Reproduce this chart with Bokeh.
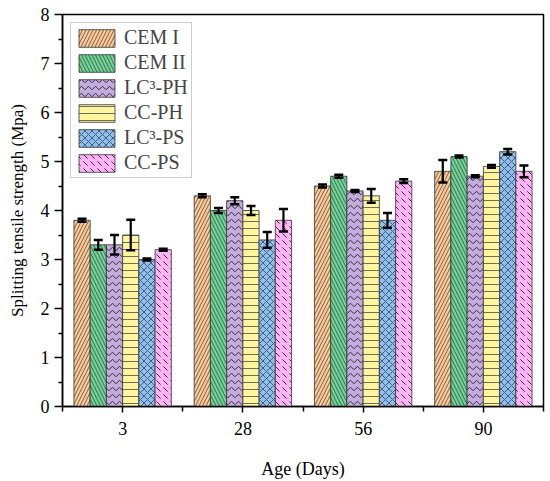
from bokeh.plotting import figure
from bokeh.models import ColumnDataSource, FixedTicker, Range1d
from bokeh.transform import dodge
from bokeh.embed import file_html
from bokeh.resources import INLINE

ages = ["3", "28", "56", "90"]
series = ["CEM I", "CEM II", "LC³-PH", "CC-PH", "LC³-PS", "CC-PS"]
cem1 = [3.8, 4.3, 4.5, 4.8]
cem2 = [3.3, 4.0, 4.7, 5.1]
lc3ph = [3.3, 4.2, 4.4, 4.7]
ccph = [3.5, 4.0, 4.3, 4.9]
lc3ps = [3.0, 3.4, 3.8, 5.2]
ccps = [3.2, 3.8, 4.6, 4.8]
err_cem1 = [0.03, 0.03, 0.03, 0.23]
err_cem2 = [0.1, 0.05, 0.03, 0.02]
err_lc3ph = [0.2, 0.07, 0.02, 0.02]
err_ccph = [0.31, 0.09, 0.14, 0.03]
err_lc3ps = [0.02, 0.16, 0.15, 0.055]
err_ccps = [0.02, 0.23, 0.04, 0.12]

values = [cem1, cem2, lc3ph, ccph, lc3ps, ccps]
errors = [err_cem1, err_cem2, err_lc3ph, err_ccph, err_lc3ps, err_ccps]
colors = ["#FFCA96", "#6DD696", "#C5ABE0", "#FFF59E", "#8CBFF2", "#FFB3F7"]
hatches = ["/", "\\", "v", "-", "x", "`"]

FONT = "Liberation Serif"
p = figure(width=550, height=481, output_backend="svg", toolbar_location=None,
           x_range=Range1d(-0.5, 3.5), y_range=Range1d(0, 8),
           min_border_left=62, min_border_right=7, min_border_top=14, min_border_bottom=73)
p.xgrid.visible = False
p.ygrid.visible = False
p.outline_line_color = "black"
p.outline_line_width = 1.5

bw = 0.135
xidx = list(range(len(ages)))
for j, (name, vals, errs, col, h) in enumerate(zip(series, values, errors, colors, hatches)):
    src = ColumnDataSource(dict(x=xidx, top=vals,
                                upper=[v + e for v, e in zip(vals, errs)],
                                lower=[v - e for v, e in zip(vals, errs)]))
    off = (j - 2.5) * bw
    p.vbar(x=dodge("x", off), top="top", width=bw, source=src,
           fill_color=col, line_color="#333333", line_width=0.8,
           hatch_pattern=h, hatch_color="#333333",
           hatch_weight=1.0 if h in ("v", "`") else 0.7,
           hatch_scale=7,
           legend_label=name)
    p.segment(x0=dodge("x", off), y0="lower", x1=dodge("x", off), y1="upper",
              source=src, line_color="black", line_width=2.2)
    p.scatter(x=dodge("x", off), y="upper", source=src, marker="dash", size=9,
              line_color="black", line_width=2.5)
    p.scatter(x=dodge("x", off), y="lower", source=src, marker="dash", size=9,
              line_color="black", line_width=2.5)

p.xaxis.ticker = FixedTicker(ticks=xidx, minor_ticks=[-0.5, 0.5, 1.5, 2.5, 3.5])
p.xaxis.major_label_overrides = {i: a for i, a in enumerate(ages)}
p.yaxis.ticker = FixedTicker(ticks=list(range(9)), minor_ticks=[i + 0.5 for i in range(8)])

for ax in (p.xaxis[0], p.yaxis[0]):
    ax.axis_line_color = "black"
    ax.axis_line_width = 1.5
    ax.major_tick_line_color = "black"
    ax.minor_tick_line_color = "black"
    ax.major_tick_line_width = 1.5
    ax.minor_tick_line_width = 1.5
    ax.major_tick_in = 0
    ax.minor_tick_in = 0
    ax.major_label_text_font = FONT
    ax.major_label_text_font_size = "18px"
    ax.major_label_text_color = "black"
    ax.axis_label_text_font = FONT
    ax.axis_label_text_font_style = "normal"
    ax.axis_label_text_color = "black"

p.xaxis.axis_label_text_font_size = "18px"
p.yaxis.axis_label_text_font_size = "17px"
p.xaxis.major_tick_out = 6
p.xaxis.minor_tick_out = 5
p.yaxis.major_tick_out = 8
p.yaxis.minor_tick_out = 4
p.xaxis.axis_label = "Age (Days)"
p.yaxis.axis_label = "Splitting tensile strength (Mpa)"
p.xaxis.major_label_standoff = 9
p.xaxis.axis_label_standoff = 21
p.yaxis.major_label_standoff = 5
p.yaxis.axis_label_standoff = 11

lg = p.legend[0]
lg.location = "top_left"
lg.margin = 8
lg.padding = 3
lg.spacing = 2
lg.glyph_width = 45
lg.glyph_height = 22
lg.label_text_font = FONT
lg.label_text_font_size = "20px"
lg.label_standoff = 5
lg.border_line_color = "#999999"
lg.border_line_width = 1
lg.background_fill_alpha = 1

open("out.html", "w").write(file_html(p, INLINE))
